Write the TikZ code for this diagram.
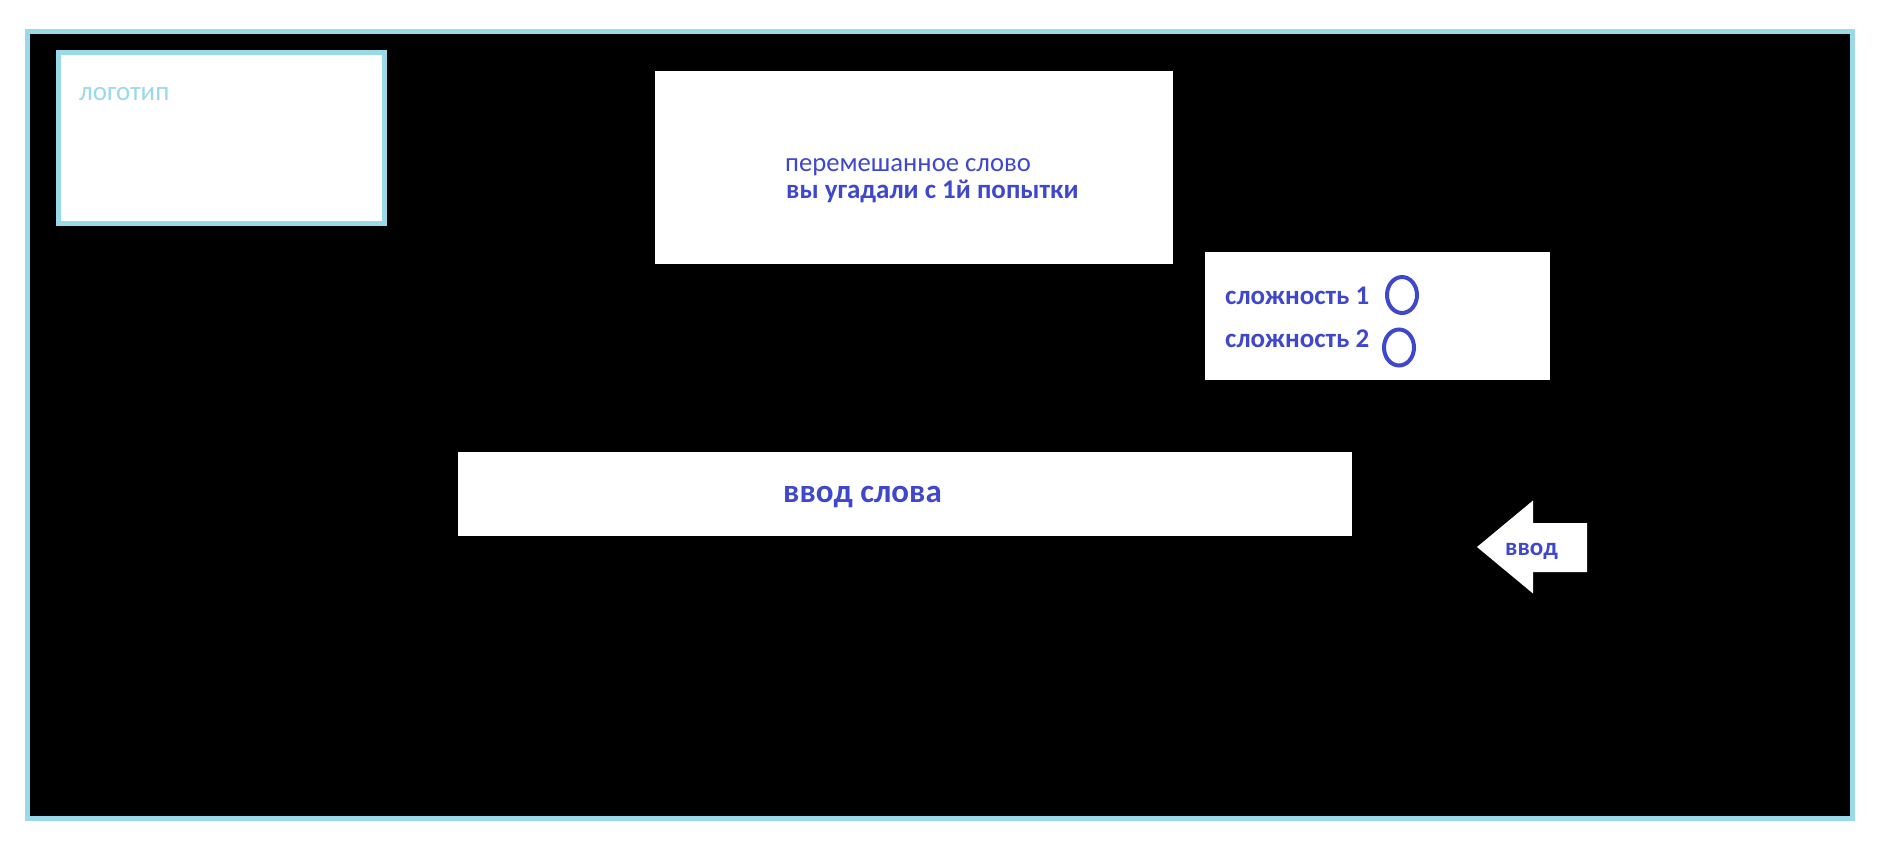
\documentclass[tikz,border=0pt]{standalone}
\usepackage{fontspec}
\setmainfont{Carlito}
\usetikzlibrary{calc}
\definecolor{turq}{HTML}{99D9EA}
\definecolor{indigo}{HTML}{3F48CC}
\tikzset{
	lbl/.style={anchor=base west,inner sep=0pt,text=indigo,font=\bfseries\fontsize{#1}{#1}\selectfont},
	lbl/.default=27
}

\begin{document}
\begin{tikzpicture}[x=1pt,y=-1pt]
			%%%%% START %%%%%
			\def\bw{5}
			\def\rx{15}
			\def\ry{18}
			\useasboundingbox (0,0) rectangle (1889,849);
			
			% frame
			\draw[line width=\bw, draw=turq, fill=black] (27.5,31.5) rectangle (1852.5,818.5);
			
			% logo
			\draw[line width=\bw, draw=turq, fill=white] (58.5,52.5) rectangle (384.5,223.5);
			\node[anchor=base west,inner sep=0pt,text=turq,font=\fontsize{27}{27}\selectfont] (logo) at (79,100) {логотип};
			
			% word
			\fill[white] (655,71) rectangle (1173,264);
			\node[anchor=base west,inner sep=0pt,text=indigo,font=\fontsize{26.7}{27}\selectfont] (word) at (785,171) {перемешанное слово};
			\node[lbl] (result) at (786,198) {вы угадали с 1й попытки};
			
			% level
			\fill[white] (1205,252) rectangle (1550,380);
			\node[lbl] (lvlone) at (1225,304) {сложность 1};
			\node[lbl] (lvltwo) at (1225,347) {сложность 2};
			\draw[line width=4, indigo] (1402,295) ellipse ({\rx} and {\ry});
			\draw[line width=4, indigo] (1399,347.5) ellipse ({\rx} and {\ry});
			
			% input
			\fill[white] (458,452) rectangle (1352,536);
			\node[lbl=33] (input) at (783,502) {ввод слова};
			
			% button
			\fill[white] (1477,547) -- (1533,500.5) -- (1533,523) -- (1587,523) -- (1587,572) -- (1533,572) -- (1533,593.5) -- cycle;
			\node[lbl=25] (enter) at (1505,555) {ввод};
			%%%%% END %%%%%
\end{tikzpicture}
\end{document}
